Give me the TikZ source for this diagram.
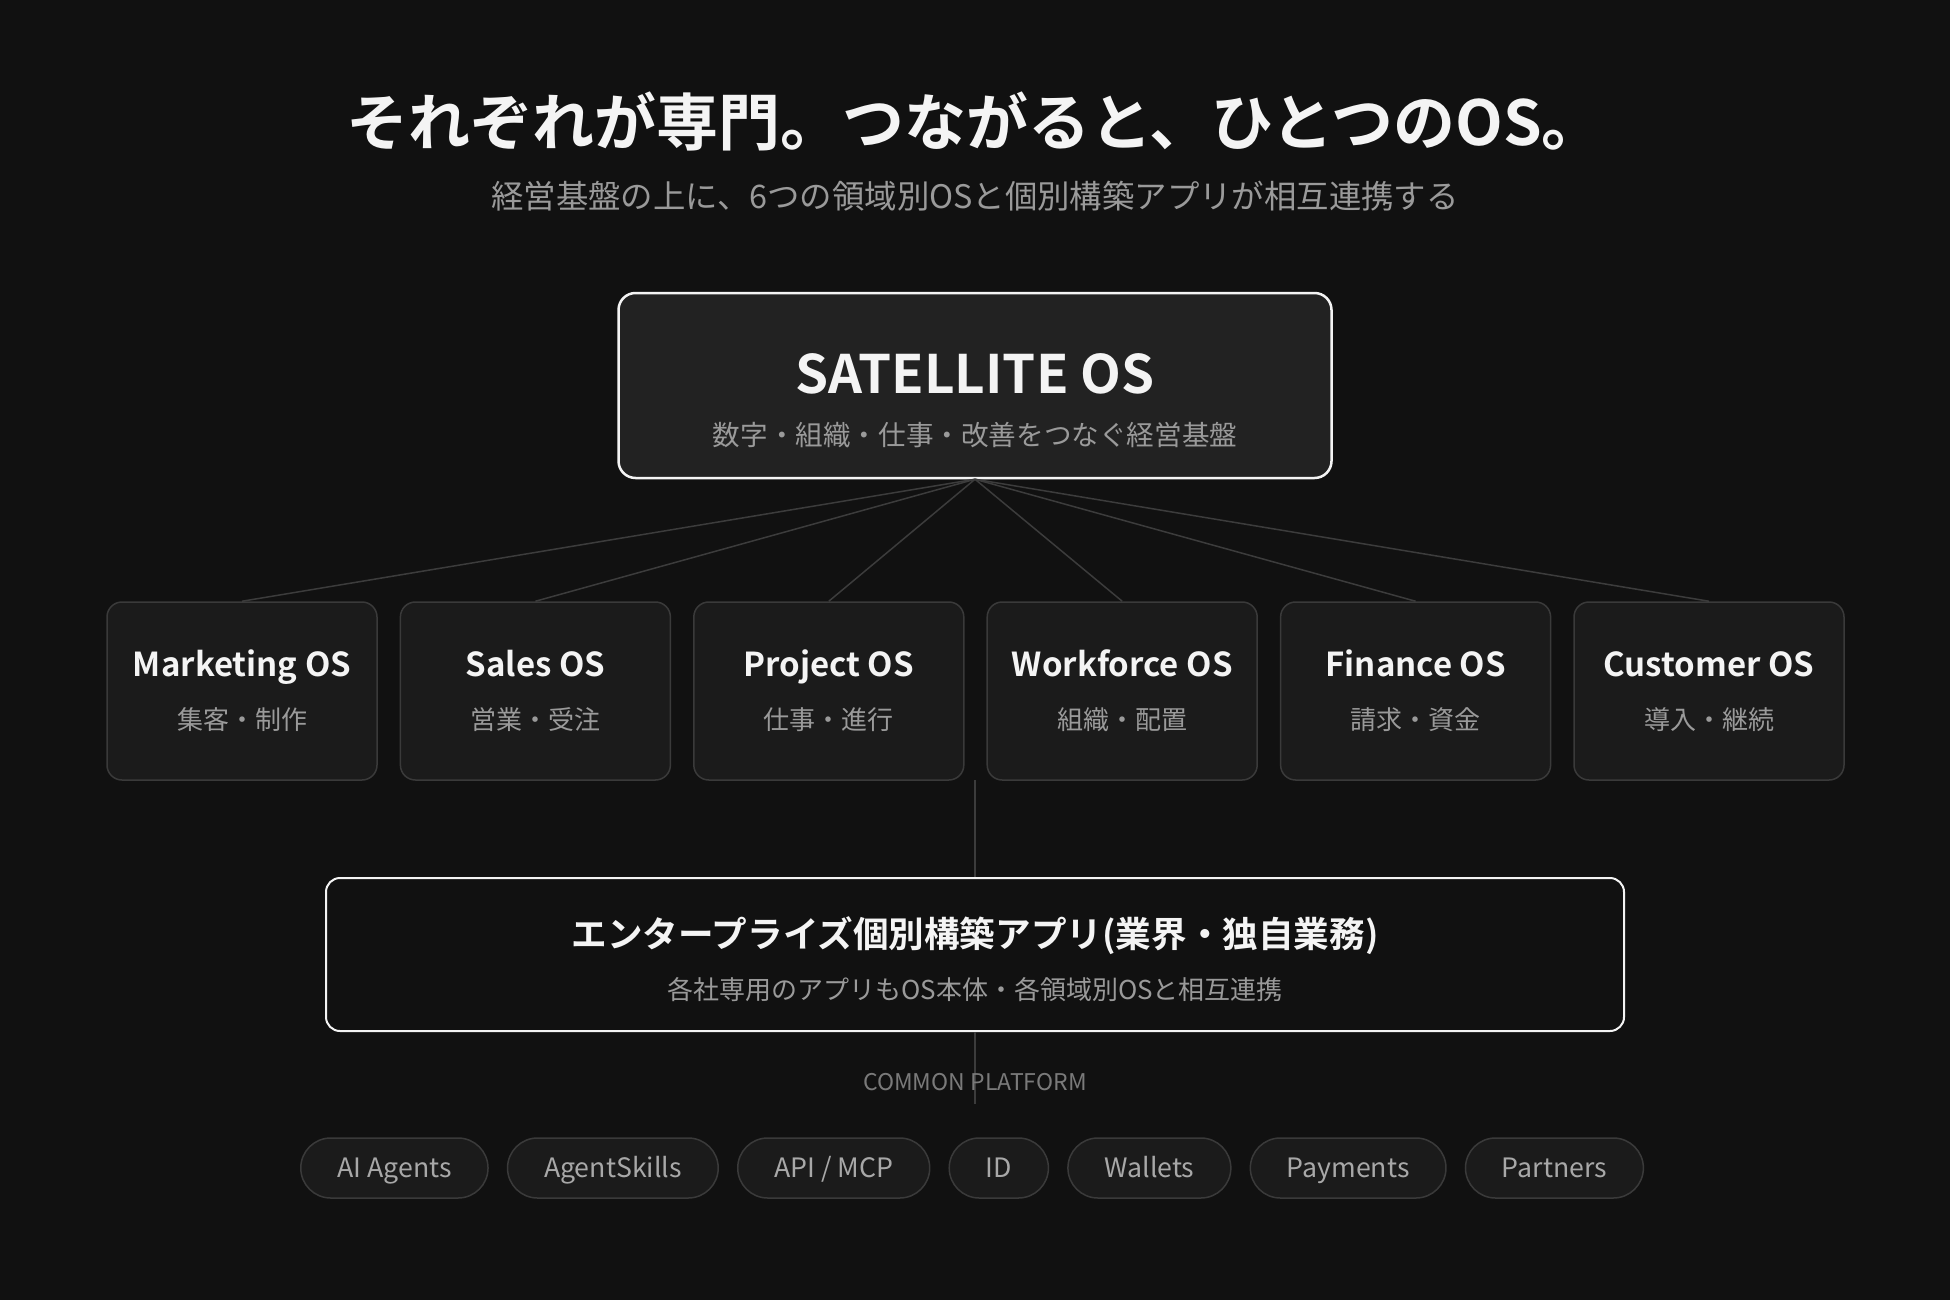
\documentclass[tikz,border=0pt]{standalone}
\usepackage{fontspec}
\setmainfont{Noto Sans CJK JP}[BoldFont={Noto Sans CJK JP Bold}]
\usetikzlibrary{positioning}
\definecolor{bgdark}{HTML}{111111}
\definecolor{boxfill}{HTML}{1B1B1B}
\definecolor{satfill}{HTML}{222222}
\definecolor{edgegrey}{HTML}{3A3A3A}
\definecolor{linegrey}{HTML}{3C3C3C}
\definecolor{textwhite}{HTML}{F4F4F4}
\definecolor{subgrey}{HTML}{9A9A9A}
\definecolor{pillgrey}{HTML}{A8A8A8}
\definecolor{capgrey}{HTML}{7A7A7A}
\newcommand{\fsz}[1]{\fontsize{#1}{#1}\selectfont}

\begin{document}
\begin{tikzpicture}[x=1pt, y=-1pt,
  osbox/.style={draw=edgegrey, fill=boxfill, line width=1.5pt, rounded corners=15pt, minimum width=270pt, minimum height=178pt},
  ostitle/.style={anchor=base, text=textwhite, font=\fsz{33}\bfseries},
  ossub/.style={anchor=base, text=subgrey, font=\fsz{26}},
  link/.style={draw=linegrey, line width=1.5pt},
  pill/.style={draw=edgegrey, fill=boxfill, line width=1.5pt, rounded corners=30pt, minimum height=60pt, inner xsep=36.5pt, text height=19pt, text depth=0pt, text=pillgrey, font=\fsz{26.7}}]

  \fill[bgdark] (0,0) rectangle (1950,1300);

  % headline
  \node[anchor=base, text=textwhite, font=\fsz{62}\bfseries] (title) at (975,146) {それぞれが専門。つながると、ひとつのOS。};
  \node[anchor=base, text=subgrey, font=\fsz{32.4}] (subtitle) at (975,208) {経営基盤の上に、6つの領域別OSと個別構築アプリが相互連携する};

  % core
  \node[draw=textwhite, fill=satfill, line width=2.5pt, rounded corners=17pt, minimum width=713pt, minimum height=185pt] (sat) at (975,385.5) {};
  \node[anchor=base, text=textwhite, font=\fsz{53}\bfseries] (sat-t) at (975,393) {SATELLITE OS};
  \node[anchor=base, text=subgrey, font=\fsz{27.6}] (sat-s) at (975,445) {数字・組織・仕事・改善をつなぐ経営基盤};

  % domain OS row
  \foreach \nm/\ttl/\sub [count=\i from 0] in {mkt/Marketing OS/集客・制作, sales/Sales OS/営業・受注, proj/Project OS/仕事・進行, work/Workforce OS/組織・配置, fin/Finance OS/請求・資金, cust/Customer OS/導入・継続} {
    \pgfmathsetmacro\cx{242+293.4*\i}
    \node[osbox] (\nm) at (\cx,691) {};
    \node[ostitle] (\nm-t) at (\cx,676) {\ttl};
    \node[ossub] (\nm-s) at (\cx,729) {\sub};
    \draw[link] (sat.south) -- (\nm.north);
  }

  % enterprise apps
  \coordinate (rowbot) at (975,780);
  \node[draw=textwhite, fill=bgdark, line width=2pt, rounded corners=14pt, minimum width=1298pt, minimum height=153pt] (ent) at (975,954.5) {};
  \draw[link] (rowbot) -- (ent.north);
  \node[anchor=base, text=textwhite, font=\fsz{35.6}\bfseries] (ent-t) at (975,947) {エンタープライズ個別構築アプリ(業界・独自業務)};
  \node[anchor=base, text=subgrey, font=\fsz{26}] (ent-s) at (975,999) {各社専用のアプリもOS本体・各領域別OSと相互連携};

  % common platform
  \coordinate (platend) at (975,1104);
  \draw[link] (ent.south) -- (platend);
  \node[anchor=base, text=capgrey, font=\fsz{23}] (plat) at (975,1090) {COMMON PLATFORM};

  \node[pill, anchor=west] (agents) at (300,1168) {AI Agents};
  \node[pill, right=18pt of agents] (skills) {AgentSkills};
  \node[pill, right=18pt of skills] (api) {API / MCP};
  \node[pill, right=18pt of api] (id) {ID};
  \node[pill, right=18pt of id] (wallets) {Wallets};
  \node[pill, right=18pt of wallets] (pay) {Payments};
  \node[pill, right=18pt of pay] (partners) {Partners};
\end{tikzpicture}
\end{document}
